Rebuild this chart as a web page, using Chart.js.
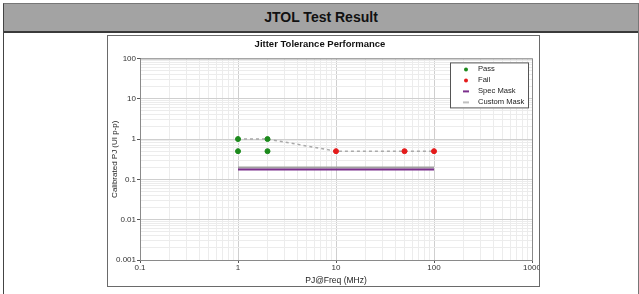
<!DOCTYPE html>
<html>
<head>
<meta charset="utf-8">
<script src="https://cdn.jsdelivr.net/npm/chart.js@4.4.1/dist/chart.umd.min.js"></script>
<style>
  body { margin: 0; background: #fff; font-family: "Liberation Sans", Arial, sans-serif; }
  .panel { position: absolute; left: 3px; top: 3px; width: 634px; height: 300px; border-left: 1px solid #444; border-top: 1px solid #777; border-right: 1px solid #777; }
  .panel h2 { margin: 0; height: 27px; line-height: 27px; background: #a3a3a3; border-bottom: 2px solid #3a3a3a; text-align: center; font-size: 14px; font-weight: bold; color: #111; }
  .box { position: absolute; left: 107px; top: 35px; width: 431px; height: 250px; border: 1px solid #6a6a6a; background: #fff; }
</style>
</head>
<body>
<div class="panel"><h2>JTOL Test Result</h2></div>
<div class="box"><canvas id="jtol" width="431" height="250"></canvas></div>
<script>
///////////////////////////////
        /// DATA ///
//////////////////////////////

const passFreq = [1, 2, 1, 2];
const passPJ = [1, 1, 0.5, 0.5];
const failFreq = [10, 50, 100];
const failPJ = [0.5, 0.5, 0.5];
const traceFreq = [1, 2, 10, 50, 100];
const tracePJ = [1, 1, 0.5, 0.5, 0.5];
const maskFreq = [1, 100];
const specMask = [0.175, 0.175];
const customMask = [0.198, 0.198];
const xTicks = [0.1, 1, 10, 100, 1000];
const yTicks = [0.001, 0.01, 0.1, 1, 10, 100];
const legendOrder = ['Pass', 'Fail', 'Spec Mask', 'Custom Mask'];

const pts = (xs, ys) => xs.map((x, i) => ({ x: x, y: ys[i] }));
const isPow10 = v => Math.abs(Math.log10(v) - Math.round(Math.log10(v))) < 1e-9;

// gridlines at 1..9 x 10^n between the first and last labelled tick
function logGrid(labels) {
  const out = [];
  for (let i = 0; i < labels.length - 1; i++) {
    for (let s = 1; s < 10; s++) out.push({ value: +(labels[i] * s).toPrecision(6) });
  }
  out.push({ value: labels[labels.length - 1] });
  return out;
}

// LEGEND (boxed, inside the plot, top right)
const boxLegend = {
  id: 'boxLegend',
  afterDraw(chart) {
    const ctx = chart.ctx;
    const area = chart.chartArea;
    const sets = chart.data.datasets;
    const items = legendOrder.map(l => sets.find(d => d.label === l));
    const w = 79, h = 46;
    const left = area.right - 3 - w, top = area.top + 4;
    ctx.save();
    ctx.fillStyle = '#fff';
    ctx.fillRect(left, top, w, h);
    ctx.strokeStyle = '#555';
    ctx.lineWidth = 1;
    ctx.strokeRect(left + 0.5, top + 0.5, w - 1, h - 1);
    ctx.font = '7.6px "Liberation Sans", Arial, sans-serif';
    ctx.textBaseline = 'middle';
    items.forEach((d, i) => {
      const y = top + 7 + i * 11;
      if (d.showLine) {
        ctx.strokeStyle = d.legendColor || d.borderColor;
        ctx.lineWidth = 2;
        ctx.beginPath();
        ctx.moveTo(left + 13, y);
        ctx.lineTo(left + 19, y);
        ctx.stroke();
      } else {
        ctx.fillStyle = d.backgroundColor;
        ctx.beginPath();
        ctx.arc(left + 16, y, 2, 0, Math.PI * 2);
        ctx.fill();
      }
      ctx.fillStyle = '#222';
      ctx.fillText(d.label, left + 28, y);
    });
    ctx.restore();
  }
};

// frame round the plot area
const plotFrame = {
  id: 'plotFrame',
  beforeDatasetsDraw(chart) {
    const a = chart.chartArea, ctx = chart.ctx;
    ctx.save();
    ctx.strokeStyle = '#8a8a8a';
    ctx.lineWidth = 1;
    ctx.strokeRect(a.left + 0.5, a.top + 0.5, a.right - a.left, a.bottom - a.top);
    ctx.restore();
  }
};

const tickFont = { family: '"Liberation Sans", Arial, sans-serif', size: 8 };
const gridColor = c => (c.tick && isPow10(c.tick.value) ? '#cfcfcf' : '#ececec');
const tickColor = c => (c.tick && isPow10(c.tick.value) ? '#555' : 'rgba(0,0,0,0)');

const ctx1 = document.getElementById('jtol').getContext('2d');
const jtolChart = new Chart(ctx1, {
  type: 'scatter',
  data: {
    datasets: [{
      label: 'Custom Mask', data: pts(maskFreq, customMask), showLine: true,
      borderColor: '#a0a0a0', legendColor: '#c0c0c0', borderWidth: 2, pointRadius: 0, order: 5
    }, {
      label: 'Trace', data: pts(traceFreq, tracePJ), showLine: true,
      borderColor: '#a9a9a9', borderWidth: 1.5, borderDash: [3, 3], pointRadius: 0, order: 4
    }, {
      label: 'Spec Mask', data: pts(maskFreq, specMask), showLine: true,
      borderColor: '#7b2f8c', borderWidth: 2, pointRadius: 0, order: 3
    }, {
      label: 'Pass', data: pts(passFreq, passPJ),
      backgroundColor: '#1c8a1c', borderColor: '#1c8a1c', pointRadius: 2.5, order: 1
    }, {
      label: 'Fail', data: pts(failFreq, failPJ),
      backgroundColor: '#e41b1b', borderColor: '#e41b1b', pointRadius: 2.5, order: 1
    }]
  },
  options: {
    responsive: false,
    animation: false,
    layout: { padding: { left: 0, right: 7, top: 0, bottom: 0 } },
    plugins: {
      legend: { display: false },
      tooltip: { enabled: false },
      title: {
        display: true,
        text: 'Jitter Tolerance Performance',
        color: '#111',
        font: { family: '"Liberation Sans", Arial, sans-serif', size: 9.5, weight: 'bold' },
        padding: { top: 3, bottom: 8 }
      }
    },
    scales: {
      x: {
        type: 'logarithmic',
        min: xTicks[0], max: xTicks[xTicks.length - 1],
        afterBuildTicks: s => { s.ticks = logGrid(xTicks); },
        afterFit: s => { s.height = 26; s.paddingRight = 0; s.paddingLeft = 0; },
        ticks: {
          autoSkip: false, maxRotation: 0, padding: 0, color: '#333', font: tickFont,
          callback: v => (isPow10(v) ? String(v) : '')
        },
        grid: { color: gridColor, tickColor: tickColor, tickLength: 3 },
        border: { color: '#555', width: 1 },
        title: {
          display: true, text: 'PJ@Freq (MHz)', color: '#222',
          font: { family: '"Liberation Sans", Arial, sans-serif', size: 8.5 },
          padding: { top: 2, bottom: 0 }
        }
      },
      y: {
        type: 'logarithmic',
        min: yTicks[0], max: yTicks[yTicks.length - 1],
        afterBuildTicks: s => { s.ticks = logGrid(yTicks); },
        afterFit: s => { s.width = 32; s.paddingTop = 0; s.paddingBottom = 0; },
        ticks: {
          autoSkip: false, padding: 1, color: '#333', font: tickFont,
          callback: v => (isPow10(v) ? String(v) : '')
        },
        grid: { color: gridColor, tickColor: tickColor, tickLength: 3 },
        border: { color: '#555', width: 1 },
        title: {
          display: true, text: 'Calibrated PJ (UI p-p)', color: '#222',
          font: { family: '"Liberation Sans", Arial, sans-serif', size: 8 },
          padding: { top: 2, bottom: 0 }
        }
      }
    }
  },
  plugins: [plotFrame, boxLegend]
});
</script>
</body>
</html>
